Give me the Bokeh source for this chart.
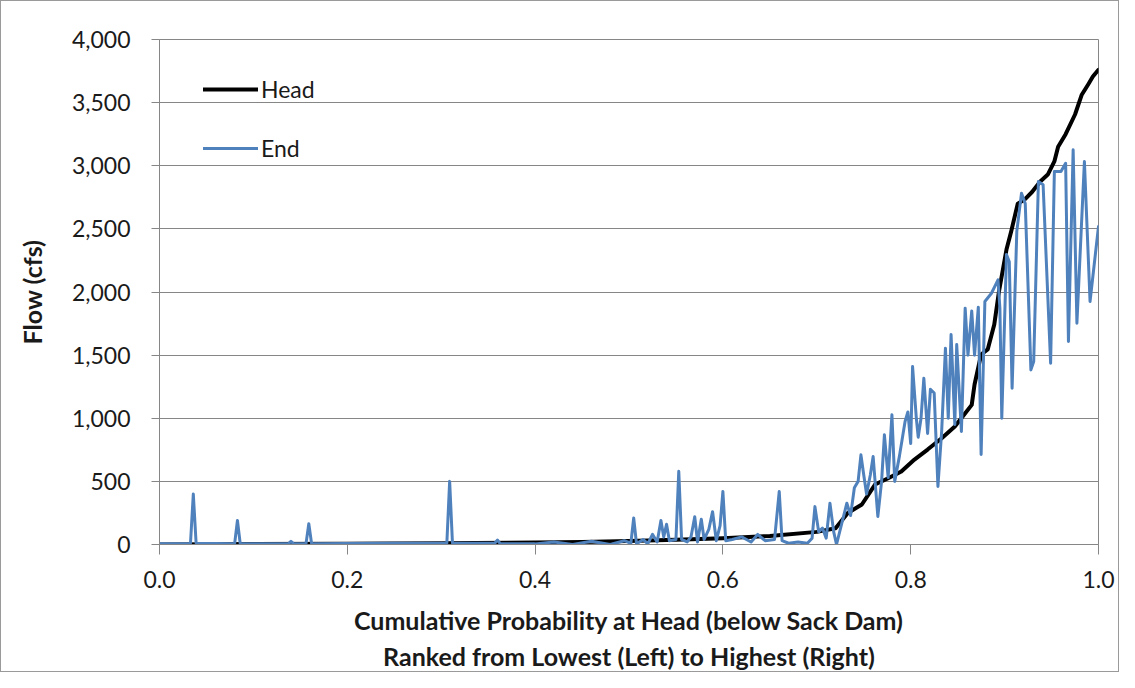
from bokeh.plotting import figure
from bokeh.models import Range1d, FixedTicker, NumeralTickFormatter, Legend, LegendItem
from bokeh.embed import file_html
from bokeh.resources import INLINE

# ---- data ----
x_ticks = [0.0, 0.2, 0.4, 0.6, 0.8, 1.0]
y_ticks = [0, 500, 1000, 1500, 2000, 2500, 3000, 3500, 4000]

head_p = [0.0, 0.1, 0.2, 0.3, 0.4, 0.45, 0.5, 0.55, 0.6, 0.65, 0.7, 0.72, 0.733,
          0.748, 0.762, 0.776, 0.79, 0.804, 0.818, 0.833, 0.847, 0.857, 0.865,
          0.868, 0.875, 0.882, 0.889, 0.894, 0.902, 0.907, 0.914, 0.921, 0.929,
          0.938, 0.946, 0.953, 0.957, 0.965, 0.975, 0.982, 0.989, 0.994, 1.0]
head_flow = [0, 3, 6, 10, 15, 20, 28, 38, 50, 68, 100, 129, 250,
             317, 475, 525, 578, 673, 752, 842, 935, 1030, 1106,
             1267, 1505, 1545, 1742, 2004, 2336, 2480, 2700, 2730, 2790,
             2875, 2930, 3034, 3150, 3250, 3406, 3560, 3644, 3707, 3760]

end_p = [0.0, 0.03, 0.033, 0.036, 0.039, 0.08, 0.083, 0.086, 0.137, 0.14, 0.143,
         0.156, 0.159, 0.162, 0.2, 0.25, 0.306, 0.309, 0.312, 0.357, 0.36, 0.363,
         0.4, 0.42, 0.44, 0.46, 0.48, 0.495, 0.502, 0.505, 0.508, 0.515, 0.52,
         0.525, 0.53, 0.534, 0.537, 0.54, 0.543, 0.55, 0.553, 0.556, 0.562, 0.566,
         0.57, 0.573, 0.577, 0.58, 0.585, 0.589, 0.593, 0.597, 0.6, 0.603, 0.61,
         0.62, 0.63, 0.637, 0.645, 0.655, 0.66, 0.663, 0.67, 0.68, 0.69, 0.695,
         0.698, 0.702, 0.706, 0.71, 0.714, 0.718, 0.721, 0.726, 0.732, 0.736,
         0.74, 0.744, 0.747, 0.75, 0.753, 0.757, 0.76, 0.765, 0.769, 0.772,
         0.776, 0.78, 0.783, 0.788, 0.794, 0.797, 0.8, 0.802, 0.806, 0.808,
         0.811, 0.814, 0.818, 0.821, 0.825, 0.829, 0.833, 0.837, 0.84, 0.843,
         0.847, 0.849, 0.854, 0.858, 0.861, 0.865, 0.868, 0.872, 0.875, 0.879,
         0.886, 0.893, 0.895, 0.897, 0.902, 0.905, 0.908, 0.913, 0.918, 0.922,
         0.928, 0.931, 0.936, 0.941, 0.949, 0.953, 0.96, 0.965, 0.968, 0.973,
         0.977, 0.985, 0.991, 1.0]
end_flow = [5, 5, 10, 400, 10, 5, 190, 5, 5, 25, 5,
            5, 165, 5, 8, 10, 10, 500, 10, 10, 35, 5,
            5, 20, 0, 25, 0, 30, 10, 210, 5, 40, 5,
            80, 20, 190, 60, 160, 30, 40, 580, 40, 20, 60,
            220, 20, 200, 40, 120, 260, 30, 150, 420, 30, 40,
            60, 20, 80, 30, 40, 420, 30, 10, 20, 10, 50,
            300, 100, 130, 50, 327, 100, 0, 150, 327, 230,
            450, 500, 710, 550, 400, 550, 697, 222, 500, 869,
            530, 1027, 500, 700, 974, 1050, 800, 1410, 1000, 850,
            1000, 1317, 880, 1230, 1200, 460, 900, 1555, 1000, 1663,
            950, 1584, 895, 1872, 1500, 1850, 1500, 1880, 713, 1925,
            1990, 2096, 1870, 1000, 2297, 2240, 1238, 2480, 2783, 2700,
            1383, 1450, 2875, 2850, 1436, 2954, 2954, 3020, 1608, 3126,
            1753, 3034, 1925, 2519]

x_title = "Cumulative Probability at Head (below Sack Dam)\nRanked from Lowest (Left) to Highest (Right)"
y_title = "Flow (cfs)"

FONT = "Lato"
GRAY = "#868686"

p = figure(width=1119, height=672, output_backend="svg", toolbar_location=None,
           x_range=Range1d(0, 1), y_range=Range1d(0, 4000),
           min_border_left=158, min_border_right=22, min_border_top=38,
           min_border_bottom=129)
p.styles = {"border": "1px solid #9a9a9a"}

p.outline_line_color = GRAY
p.outline_line_width = 1
p.xgrid.grid_line_color = None
p.ygrid.grid_line_color = GRAY
p.ygrid.grid_line_width = 1

p.xaxis.ticker = FixedTicker(ticks=x_ticks)
p.yaxis.ticker = FixedTicker(ticks=y_ticks)
p.xaxis.formatter = NumeralTickFormatter(format="0.0")
p.yaxis.formatter = NumeralTickFormatter(format="0,0")

for ax in (p.xaxis, p.yaxis):
    ax.axis_line_color = GRAY
    ax.major_tick_line_color = GRAY
    ax.minor_tick_line_color = None
    ax.major_tick_in = 0
    ax.major_label_text_font = FONT
    ax.major_label_text_font_size = "23px"
    ax.major_label_text_color = "#1a1a1a"
    ax.axis_label_text_font = FONT
    ax.axis_label_text_font_size = "25px"
    ax.axis_label_text_font_style = "bold"
    ax.axis_label_text_color = "#1a1a1a"

p.yaxis.major_tick_out = 8
p.xaxis.major_tick_out = 10
p.yaxis.major_label_standoff = 21
p.xaxis.major_label_standoff = 16
p.xaxis.axis_label = x_title
p.yaxis.axis_label = y_title
p.xaxis.axis_label_standoff = 14
p.yaxis.axis_label_standoff = 22

r_head = p.line(head_p, head_flow, line_color="black", line_width=4,
                line_join="round", line_cap="round")
r_end = p.line(end_p, end_flow, line_color="#4F81BD", line_width=3,
               line_join="round", line_cap="round")

legend = Legend(items=[LegendItem(label="Head", renderers=[r_head]),
                       LegendItem(label="End", renderers=[r_end])],
                location=(44, 381))
legend.background_fill_alpha = 0
legend.border_line_alpha = 0
legend.glyph_width = 55
legend.glyph_height = 30
legend.label_height = 30
legend.spacing = 29
legend.padding = 0
legend.margin = 0
legend.label_standoff = 3
legend.label_text_font = FONT
legend.label_text_font_size = "23px"
legend.label_text_color = "#1a1a1a"
p.add_layout(legend)

open("out.html", "w").write(file_html(p, INLINE))
